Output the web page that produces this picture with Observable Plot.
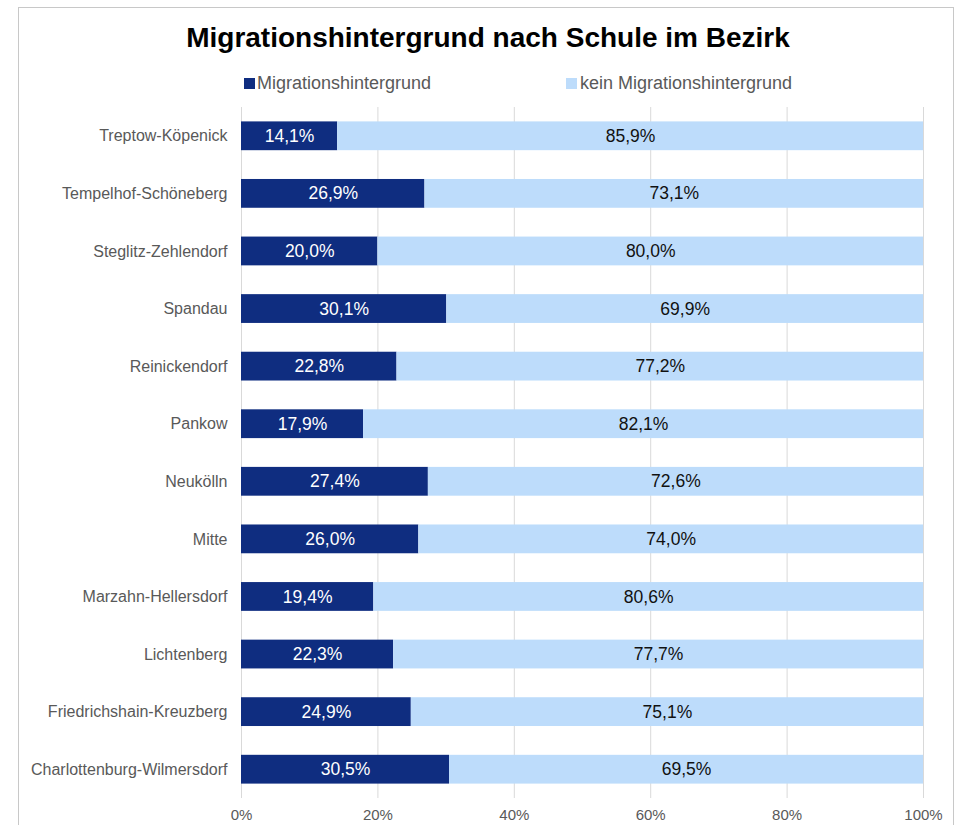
<!DOCTYPE html>
<html>
<head>
<meta charset="utf-8">
<script src="https://cdn.jsdelivr.net/npm/d3@7"></script>
<script src="https://cdn.jsdelivr.net/npm/@observablehq/plot@0.6"></script>
<style>
  html, body { margin: 0; padding: 0; background: #fff; }
  body { width: 962px; height: 825px; overflow: hidden; position: relative; font-family: "Liberation Sans", Arial, sans-serif; }
  #frame { position: absolute; left: 18px; top: 7px; width: 936px; height: 840px; border: 1px solid #c8c8c8; box-sizing: border-box; }
  #title { position: absolute; left: 0; width: 976px; top: 24px; line-height: 28px; text-align: center; font-size: 28px; font-weight: bold; color: #000; white-space: nowrap; }
  .leg { position: absolute; top: 74px; font-size: 18px; line-height: 18px; color: #595959; white-space: nowrap; }
  .sw { position: absolute; top: 78px; width: 11px; height: 11px; }
  #chart { position: absolute; left: 0; top: 95px; }
</style>
</head>
<body>
<div id="frame"></div>
<div id="title">Migrationshintergrund nach Schule im Bezirk</div>
<div class="sw" style="left:244px;background:#0F2D80"></div>
<div class="leg" style="left:257px">Migrationshintergrund</div>
<div class="sw" style="left:566px;background:#BDDCFB"></div>
<div class="leg" style="left:580px">kein Migrationshintergrund</div>
<div id="chart"></div>
<script>
const districts = [
  "Treptow-Köpenick", "Tempelhof-Schöneberg", "Steglitz-Zehlendorf", "Spandau",
  "Reinickendorf", "Pankow", "Neukölln", "Mitte", "Marzahn-Hellersdorf",
  "Lichtenberg", "Friedrichshain-Kreuzberg", "Charlottenburg-Wilmersdorf"
];
const migration = [14.1, 26.9, 20.0, 30.1, 22.8, 17.9, 27.4, 26.0, 19.4, 22.3, 24.9, 30.5];
const noMigration = [85.9, 73.1, 80.0, 69.9, 77.2, 82.1, 72.6, 74.0, 80.6, 77.7, 75.1, 69.5];
const seriesNames = ["Migrationshintergrund", "kein Migrationshintergrund"];
const xTicks = [0, 20, 40, 60, 80, 100];

const colors = ["#0F2D80", "#BDDCFB"];
const labelColors = ["#ffffff", "#111111"];

const rows = [];
districts.forEach((d, i) => {
  rows.push({district: d, series: seriesNames[0], value: migration[i]});
  rows.push({district: d, series: seriesNames[1], value: noMigration[i]});
});
const fmt = v => v.toFixed(1).replace(".", ",") + "%";

const plot = Plot.plot({
  width: 962,
  height: 730,
  marginLeft: 241,
  marginRight: 39,
  marginTop: 12,
  marginBottom: 27,
  style: { fontFamily: "Liberation Sans, Arial, sans-serif", background: "transparent" },
  x: { domain: [0, 100], ticks: xTicks, tickFormat: d => d + "%" },
  y: { domain: districts, paddingInner: 0.5, paddingOuter: 0.25, align: 0.5, round: false },
  color: { domain: seriesNames, range: colors },
  marks: [
    Plot.gridX(xTicks, { stroke: "#d9d9d9", strokeOpacity: 1, strokeWidth: 1 }),
    Plot.barX(rows, Plot.stackX({ x: "value", y: "district", fill: "series", order: seriesNames })),
    Plot.text(rows, Plot.stackX({
      x: "value", y: "district", z: "series", order: seriesNames,
      text: d => fmt(d.value),
      fill: d => d.series === seriesNames[0] ? labelColors[0] : labelColors[1],
      fontSize: 17.5
    })),
    Plot.axisY({ tickSize: 0, tickPadding: 14, fontSize: 16, color: "#595959", label: null }),
    Plot.axisX({ ticks: xTicks, tickFormat: d => d + "%", tickSize: 0, tickPadding: 11, fontSize: 15, color: "#595959", label: null })
  ]
});
document.getElementById("chart").appendChild(plot);
</script>
</body>
</html>
